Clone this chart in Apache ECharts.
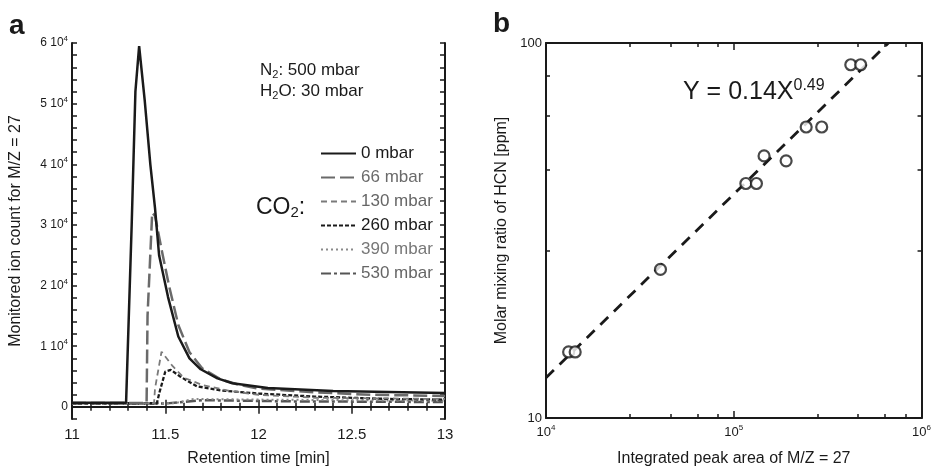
<!DOCTYPE html>
<html>
<head>
<meta charset="utf-8">
<script src="https://cdn.jsdelivr.net/npm/echarts@6/dist/echarts.min.js"></script>
<style>
  html, body { margin: 0; padding: 0; background: #fff; }
  #chart { width: 934px; height: 472px; }
</style>
</head>
<body>
<div id="chart"></div>
<script>
// panel a: ion count vs retention time, one list per CO2 pressure
const co2Names = ['0 mbar', '66 mbar', '130 mbar', '260 mbar', '390 mbar', '530 mbar'];
const co2_0 = [[11, 700], [11.29, 700], [11.32, 30000], [11.34, 52000], [11.36, 59500], [11.39, 50500],
  [11.42, 40000], [11.445, 32800], [11.467, 25000], [11.515, 18100], [11.57, 11600], [11.63, 8000],
  [11.69, 6200], [11.78, 4700], [11.86, 3900], [12.05, 3100], [12.4, 2600], [13, 2300]];
const co2_66 = [[11, 650], [11.40, 650], [11.405, 15000], [11.43, 32000], [11.445, 31500], [11.48, 26000],
  [11.52, 20000], [11.57, 13500], [11.63, 9000], [11.7, 6300], [11.8, 4500], [11.9, 3600],
  [12.0, 3000], [12.3, 2400], [12.6, 2000], [13, 1800]];
const co2_130 = [[11, 600], [11.44, 600], [11.445, 3000], [11.48, 9100], [11.54, 6700], [11.6, 4800],
  [11.7, 3600], [11.85, 2600], [12.0, 2000], [12.3, 1500], [13, 1300]];
const co2_260 = [[11, 600], [11.455, 600], [11.47, 2500], [11.5, 5800], [11.53, 6100], [11.58, 5000],
  [11.67, 3400], [11.8, 2700], [12.0, 2200], [12.3, 1700], [12.7, 1300], [13, 1200]];
const co2_390 = [[11, 600], [11.55, 600], [11.65, 1300], [12.0, 1200], [12.5, 1100], [13, 1000]];
const co2_530 = [[11, 550], [11.5, 550], [11.7, 1100], [12.2, 900], [13, 800]];

// panel b: calibration points and power-law fit
const peakArea = [13200, 14300, 40700, 116000, 132000, 145000, 190000, 243000, 294000, 420000, 474000];
const hcnPpm = [15, 15, 24.9, 42.2, 42.2, 50, 48.5, 59.7, 59.7, 87.5, 87.5];
const fitArea = [10000, 666000];
const fitPpm = [12.8, 100];

const yTicksA = [0, 10000, 20000, 30000, 40000, 50000, 60000];
const xTicksB = [10000, 100000, 1000000];

const FONT = 'Liberation Sans, Arial, sans-serif';
const INK = '#1a1a1a';

const styles = [
  { color: '#1a1a1a', width: 2.5, type: 'solid' },
  { color: '#6a6a6a', width: 2.5, type: [14, 5] },
  { color: '#7a7a7a', width: 1.8, type: [6, 4] },
  { color: '#1a1a1a', width: 2.3, type: [4, 2] },
  { color: '#8a8a8a', width: 2, type: [2, 3] },
  { color: '#555555', width: 2.5, type: [10, 3, 3, 3] }
];
const textColors = ['#1a1a1a', '#6a6a6a', '#666666', '#1a1a1a', '#777777', '#666666'];
const seriesA = [co2_0, co2_66, co2_130, co2_260, co2_390, co2_530];

const frameLine = { lineStyle: { color: INK, width: 2 } };
const supRich = {
  n: { fontSize: 12, color: INK, fontFamily: FONT, lineHeight: 16 },
  e: { fontSize: 8, color: INK, fontFamily: FONT, verticalAlign: 'top', lineHeight: 16 }
};
const nameStyle = { fontSize: 16, color: INK, fontFamily: FONT };

let myChart = echarts.init(document.getElementById('chart'));

myChart.setOption({
  animation: false,
  textStyle: { fontFamily: FONT },
  grid: [
    { left: 72, top: 43, width: 373, height: 379 },
    { left: 546, top: 43, width: 377, height: 379 }
  ],
  legend: {
    orient: 'vertical',
    left: 315,
    top: 140,
    itemWidth: 35,
    itemHeight: 14,
    itemGap: 7,
    textStyle: { fontSize: 17, fontFamily: FONT },
    itemStyle: { color: 'rgba(0,0,0,0)', borderColor: 'rgba(0,0,0,0)', borderWidth: 0 },
    data: co2Names.map((n, i) => ({ name: n, textStyle: { color: textColors[i] } }))
  },
  xAxis: [
    {
      gridIndex: 0, type: 'value', min: 11, max: 13, interval: 0.5,
      axisLine: frameLine,
      axisTick: { inside: true, length: 7, lineStyle: { color: INK, width: 1.5 } },
      minorTick: { show: true, splitNumber: 5, length: 4, lineStyle: { color: INK, width: 1.5 } },
      splitLine: { show: false },
      axisLabel: { fontSize: 15, color: INK, margin: 8, formatter: v => String(v) },
      name: 'Retention time [min]', nameLocation: 'middle', nameGap: 32, nameTextStyle: nameStyle
    },
    {
      gridIndex: 0, type: 'value', min: 11, max: 13, interval: 0.5, position: 'top',
      axisLine: frameLine,
      axisTick: { inside: true, length: 7, lineStyle: { color: INK, width: 1.5 } },
      minorTick: { show: true, splitNumber: 5, length: 4, lineStyle: { color: INK, width: 1.5 } },
      splitLine: { show: false }, axisLabel: { show: false }
    },
    {
      gridIndex: 1, type: 'log', min: 1e4, max: 1e6, logBase: 10,
      axisLine: frameLine,
      axisTick: { inside: true, length: 7, lineStyle: { color: INK, width: 1.5 } },
      minorTick: { show: true, length: 4, lineStyle: { color: INK, width: 1.5 } },
      splitLine: { show: false },
      axisLabel: {
        margin: 6,
        formatter: v => xTicksB.includes(v) ? '{n|10}{e|' + Math.round(Math.log10(v)) + '}' : '',
        rich: { n: { fontSize: 13, color: INK, fontFamily: FONT, lineHeight: 16 },
                e: { fontSize: 8, color: INK, fontFamily: FONT, verticalAlign: 'top', lineHeight: 16 } }
      },
      name: 'Integrated peak area of M/Z = 27', nameLocation: 'middle', nameGap: 33, nameTextStyle: nameStyle
    },
    {
      gridIndex: 1, type: 'log', min: 1e4, max: 1e6, logBase: 10, position: 'top',
      axisLine: frameLine,
      axisTick: { inside: true, length: 7, lineStyle: { color: INK, width: 1.5 } },
      minorTick: { show: true, length: 4, lineStyle: { color: INK, width: 1.5 } },
      splitLine: { show: false }, axisLabel: { show: false }
    }
  ],
  yAxis: [
    {
      gridIndex: 0, type: 'value', min: -2000, max: 60000, interval: 2000,
      axisLine: frameLine,
      axisTick: { inside: true, length: 5, lineStyle: { color: INK, width: 1.5 } },
      splitLine: { show: false },
      axisLabel: {
        margin: 4,
        formatter: v => v === 0 ? '{n|0}' : (yTicksA.includes(v) ? '{n|' + (v / 10000) + ' 10}{e|4}' : ''),
        rich: supRich
      },
      name: 'Monitored ion count for M/Z = 27', nameLocation: 'middle', nameGap: 48, nameTextStyle: nameStyle
    },
    {
      gridIndex: 0, type: 'value', min: -2000, max: 60000, interval: 2000, position: 'right',
      axisLine: frameLine,
      axisTick: { inside: true, length: 5, lineStyle: { color: INK, width: 1.5 } },
      splitLine: { show: false }, axisLabel: { show: false }
    },
    {
      gridIndex: 1, type: 'log', min: 10, max: 100, logBase: 10,
      axisLine: frameLine,
      axisTick: { inside: true, length: 7, lineStyle: { color: INK, width: 1.5 } },
      minorTick: { show: true, length: 4, lineStyle: { color: INK, width: 1.5 } },
      splitLine: { show: false },
      axisLabel: { fontSize: 13, color: INK, margin: 4, formatter: v => (v === 10 || v === 100) ? String(v) : '' },
      name: 'Molar mixing ratio of HCN [ppm]', nameLocation: 'middle', nameGap: 36, nameTextStyle: nameStyle
    },
    {
      gridIndex: 1, type: 'log', min: 10, max: 100, logBase: 10, position: 'right',
      axisLine: frameLine,
      axisTick: { inside: true, length: 7, lineStyle: { color: INK, width: 1.5 } },
      minorTick: { show: true, length: 4, lineStyle: { color: INK, width: 1.5 } },
      splitLine: { show: false }, axisLabel: { show: false }
    }
  ],
  series: seriesA.map((d, i) => ({
    name: co2Names[i],
    type: 'line',
    xAxisIndex: 0,
    yAxisIndex: 0,
    data: d,
    showSymbol: false,
    symbol: 'none',
    color: styles[i].color,
    lineStyle: styles[i],
    z: 10 - i
  })).concat([
    {
      type: 'line',
      xAxisIndex: 2,
      yAxisIndex: 2,
      data: fitArea.map((x, i) => [x, fitPpm[i]]),
      symbol: 'none',
      lineStyle: { color: INK, width: 2.8, type: [11, 8] },
      clip: true
    },
    {
      type: 'scatter',
      xAxisIndex: 2,
      yAxisIndex: 2,
      data: peakArea.map((x, i) => [x, hcnPpm[i]]),
      symbol: 'circle',
      symbolSize: 11,
      itemStyle: { color: '#fff', borderColor: INK, borderWidth: 2.2 },
      z: 5
    }
  ]),
  graphic: [
    { type: 'text', left: 9, top: 12, style: { text: 'a', font: 'bold 28px ' + FONT, fill: INK } },
    { type: 'text', left: 493, top: 10, style: { text: 'b', font: 'bold 28px ' + FONT, fill: INK } },
    {
      type: 'text', left: 260, top: 62,
      style: {
        text: '{t|N}{s|2}{t|: 500 mbar}',
        rich: { t: { fontSize: 17, fontFamily: FONT, fill: INK, lineHeight: 20 },
                s: { fontSize: 11, fontFamily: FONT, fill: INK, verticalAlign: 'bottom', lineHeight: 14 } }
      }
    },
    {
      type: 'text', left: 260, top: 83,
      style: {
        text: '{t|H}{s|2}{t|O: 30 mbar}',
        rich: { t: { fontSize: 17, fontFamily: FONT, fill: INK, lineHeight: 20 },
                s: { fontSize: 11, fontFamily: FONT, fill: INK, verticalAlign: 'bottom', lineHeight: 14 } }
      }
    },
    {
      type: 'text', left: 256, top: 196,
      style: {
        text: '{t|CO}{s|2}{t|:}',
        rich: { t: { fontSize: 23, fontFamily: FONT, fill: INK, lineHeight: 26 },
                s: { fontSize: 15, fontFamily: FONT, fill: INK, verticalAlign: 'bottom', lineHeight: 18 } }
      }
    },
    {
      type: 'text', left: 683, top: 78,
      style: {
        text: '{t|Y = 0.14X}{s|0.49}',
        rich: { t: { fontSize: 25, fontFamily: FONT, fill: INK, lineHeight: 28 },
                s: { fontSize: 16, fontFamily: FONT, fill: INK, verticalAlign: 'top', lineHeight: 28 } }
      }
    }
  ]
});
</script>
</body>
</html>
